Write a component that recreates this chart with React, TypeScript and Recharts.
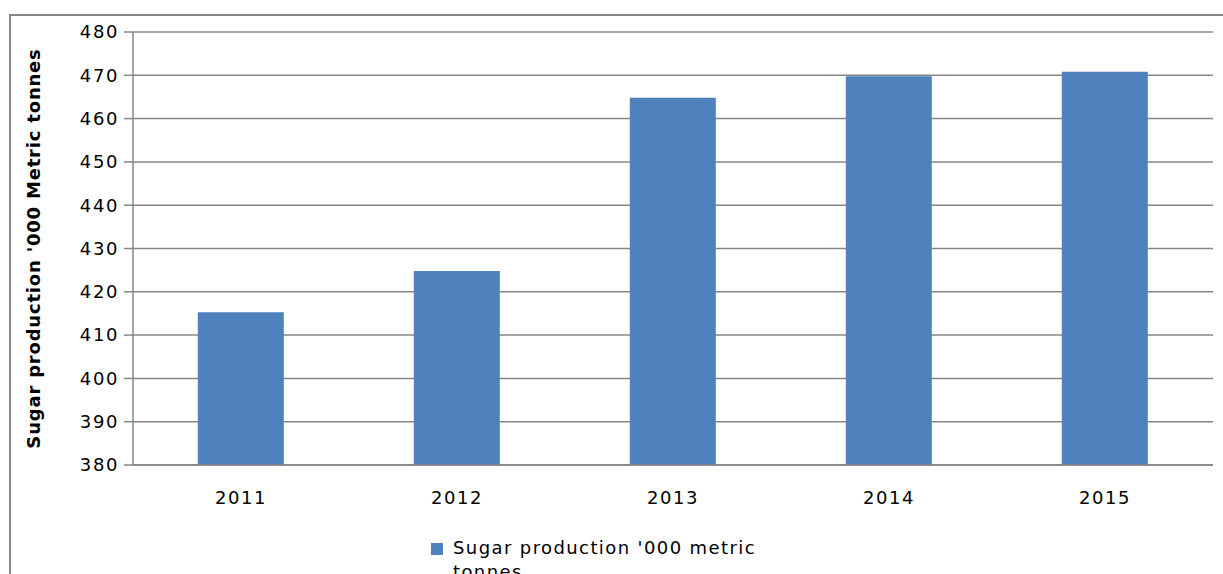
import { BarChart, Bar, XAxis, YAxis, CartesianGrid, Legend } from "recharts";

const years = ["2011", "2012", "2013", "2014", "2015"];
const production = [415.3, 424.8, 464.8, 469.8, 470.8];
const yTicks = [380, 390, 400, 410, 420, 430, 440, 450, 460, 470, 480];

const data = years.map((year, i) => ({ year, production: production[i] }));

const FONT = "'DejaVu Sans', sans-serif";
const tickStyle = { fontSize: 18, fill: "#000", fontFamily: FONT, letterSpacing: 1.6 };

function LegendBox() {
  return (
    <div style={{ display: "flex", alignItems: "flex-start", fontFamily: FONT, fontSize: 18, color: "#000", height: 44 }}>
      <div style={{ width: 12, height: 12, background: "#4F81BD", marginTop: 7, marginRight: 10 }} />
      <div style={{ width: 330, lineHeight: "24px", letterSpacing: 1.4 }}>Sugar production '000 metric tonnes</div>
    </div>
  );
}

export default function App() {
  return (
    <div style={{ position: "absolute", left: 0, top: 0, width: 1223, height: 574, overflow: "hidden", background: "#fff" }}>
      <div style={{ position: "absolute", left: 9, top: 14, width: 1300, height: 700, border: "2px solid #868686", boxSizing: "border-box" }} />
      <BarChart
        width={1223}
        height={574}
        data={data}
        margin={{ top: 32, right: 10, left: 0, bottom: 35 }}
        barCategoryGap="30%"
      >
        <CartesianGrid horizontal vertical={false} stroke="#868686" strokeWidth={1.5} />
        <XAxis
          dataKey="year"
          height={30}
          tickLine={false}
          axisLine={{ stroke: "#868686", strokeWidth: 1.5 }}
          tick={tickStyle}
          tickMargin={20}
        />
        <YAxis
          width={133}
          domain={[380, 480]}
          ticks={yTicks}
          interval={0}
          allowDataOverflow
          axisLine={{ stroke: "#868686", strokeWidth: 1.5 }}
          tickLine={{ stroke: "#868686", strokeWidth: 1.5 }}
          tickSize={9}
          tickMargin={5}
          tick={tickStyle}
          label={{
            value: "Sugar production '000 Metric tonnes",
            angle: -90,
            position: "insideLeft",
            offset: 34,
            style: { textAnchor: "middle", fontSize: 18, fontWeight: "bold", fill: "#000", fontFamily: FONT, letterSpacing: 0.8 },
          }}
        />
        <Legend
          verticalAlign="bottom"
          content={() => <LegendBox />}
          wrapperStyle={{ left: 431, top: 536, width: 360, height: 44 }}
        />
        <Bar dataKey="production" name="Sugar production '000 metric tonnes" fill="#4F81BD" isAnimationActive={false} />
      </BarChart>
    </div>
  );
}
